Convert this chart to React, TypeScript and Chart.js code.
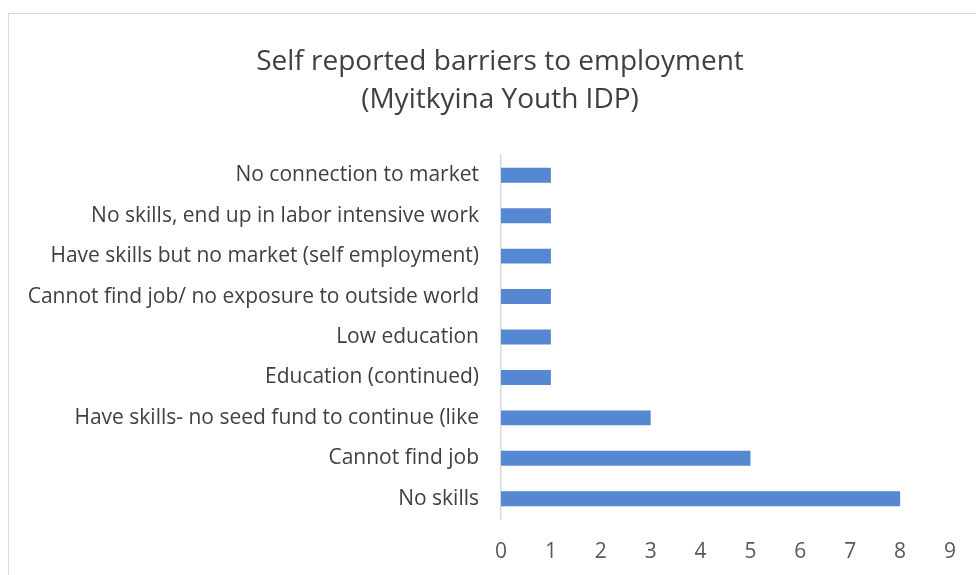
import React, { useEffect, useRef } from "react";
import { Chart, registerables } from "chart.js";

Chart.register(...registerables);

const titleLines = ["Self reported barriers to employment", "(Myitkyina Youth IDP)"];
const categories = [
  "No connection to market",
  "No skills, end up in labor intensive work",
  "Have skills but no market (self employment)",
  "Cannot find job/ no exposure to outside world",
  "Low education",
  "Education (continued)",
  "Have skills- no seed fund to continue (like",
  "Cannot find job",
  "No skills",
];
const values = [1, 1, 1, 1, 1, 1, 3, 5, 8];
const xTicks = [0, 1, 2, 3, 4, 5, 6, 7, 8, 9];

const FONT = "'Open Sans', 'DejaVu Sans', sans-serif";

const titlePlugin = {
  id: "centredTitle",
  afterDraw(chart: any) {
    const ctx = chart.ctx;
    ctx.save();
    ctx.fillStyle = "#404040";
    ctx.font = `28px ${FONT}`;
    ctx.textAlign = "center";
    ctx.textBaseline = "middle";
    const cx = 500;
    titleLines.forEach((line, i) => ctx.fillText(line, cx, 62 + i * 38));
    ctx.restore();
  },
};

export default function App() {
  const ref = useRef<HTMLCanvasElement | null>(null);
  useEffect(() => {
    document.body.style.margin = "0";
    const chart = new Chart(ref.current!, {
      type: "bar",
      data: {
        labels: categories,
        datasets: [
          {
            data: values,
            backgroundColor: "#5687d2",
            borderWidth: 0,
            categoryPercentage: 1,
            barPercentage: 0.37,
          },
        ],
      },
      options: {
        indexAxis: "y",
        animation: false,
        responsive: false,
        maintainAspectRatio: false,
        layout: { padding: { left: 0, right: 26, top: 155, bottom: 0 } },
        plugins: {
          legend: { display: false },
          tooltip: { enabled: false },
          title: { display: false },
        },
        scales: {
          x: {
            min: 0,
            max: 9,
            afterBuildTicks: (s: any) => {
              s.ticks = xTicks.map((v) => ({ value: v }));
            },
            grid: { display: false, drawTicks: false },
            border: { display: false },
            ticks: {
              color: "#595959",
              font: { family: FONT, size: 21 },
              padding: 20,
            },
            afterFit: (s: any) => {
              s.height = 56;
            },
          },
          y: {
            grid: { display: false, drawTicks: false },
            border: { display: true, color: "#d9d9d9", width: 1.5 },
            ticks: {
              color: "#404040",
              font: { family: FONT, size: 21 },
              padding: 22,
            },
            afterFit: (s: any) => {
              s.width = 501;
            },
          },
        },
      },
      plugins: [titlePlugin],
    });
    return () => chart.destroy();
  }, []);
  return (
    <div style={{ position: "relative", width: 976, height: 575, overflow: "hidden", background: "#fff" }}>
      <div
        style={{
          position: "absolute",
          left: 8,
          top: 13,
          width: 1100,
          height: 700,
          border: "1.5px solid #d9d9d9",
        }}
      />
      <canvas ref={ref} width={976} height={575} style={{ position: "absolute", left: 0, top: 0 }} />
    </div>
  );
}
